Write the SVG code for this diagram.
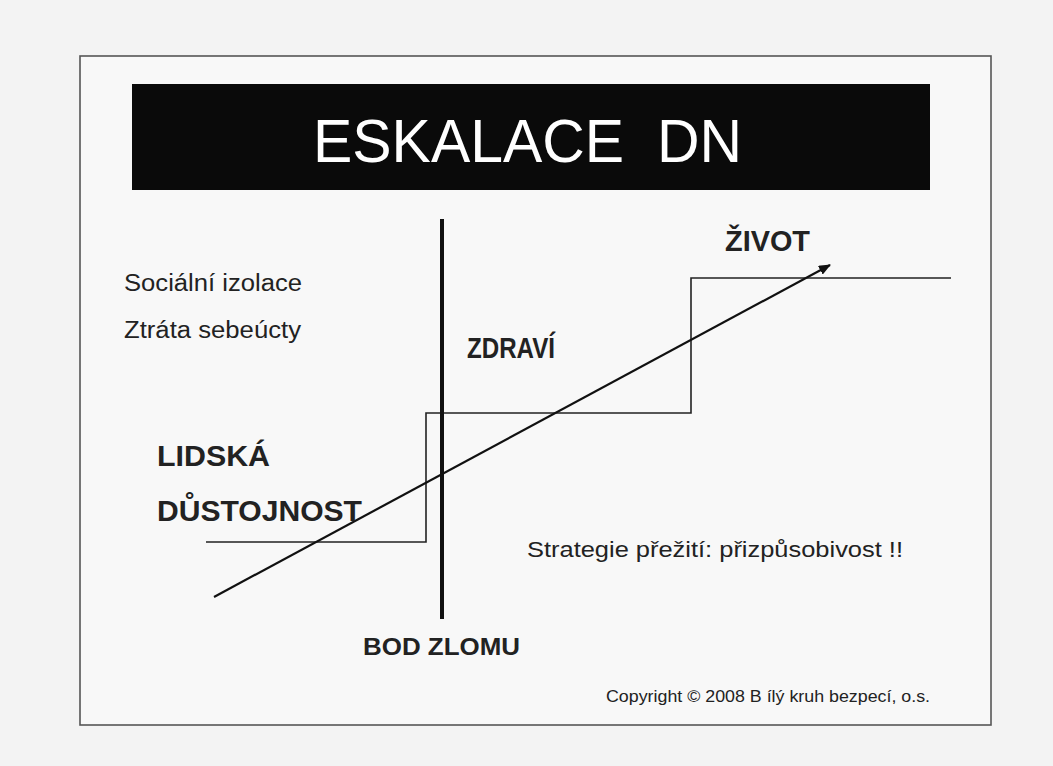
<svg xmlns="http://www.w3.org/2000/svg" width="1053" height="766" viewBox="0 0 1053 766">
<defs>
<style>
.t{font-family:"Liberation Sans",Arial,sans-serif;fill:#222}
.b{font-weight:bold}
.thin{fill:none;stroke:#222;stroke-width:1.6}
</style>
<marker id="ah" viewBox="0 0 12 10" refX="11" refY="5" markerWidth="12" markerHeight="10" markerUnits="userSpaceOnUse" orient="auto">
<path d="M0,0 L12,5 L0,10 Z" fill="#111"/>
</marker>
</defs>
<rect width="1053" height="766" fill="#f3f3f3"/>
<rect x="80" y="56" width="911" height="669" fill="#f8f8f8" stroke="#555" stroke-width="1.6"/>
<g id="title">
<rect x="132" y="84" width="798" height="106" fill="#0a0a0a"/>
<text class="t" x="313" y="162" font-size="62" style="fill:#fff;white-space:pre" xml:space="preserve" textLength="429" lengthAdjust="spacingAndGlyphs">ESKALACE  DN</text>
</g>
<g id="connectors">
<polyline class="thin" points="206,542 426,542 426,413 691,413 691,278 951,278"/>
<line x1="442" y1="219" x2="442" y2="619" stroke="#111" stroke-width="4"/>
<line x1="214" y1="597" x2="830" y2="265" stroke="#111" stroke-width="2.2" marker-end="url(#ah)"/>
</g>
<g id="zivot"><text class="t b" x="725" y="251" font-size="29" textLength="85" lengthAdjust="spacingAndGlyphs">ŽIVOT</text></g>
<g id="zdravi"><text class="t b" x="467" y="358" font-size="29" textLength="88" lengthAdjust="spacingAndGlyphs">ZDRAVÍ</text></g>
<g id="socialni"><text class="t" x="124" y="291" font-size="23" textLength="178" lengthAdjust="spacingAndGlyphs">Sociální izolace</text></g>
<g id="ztrata"><text class="t" x="124" y="338" font-size="23" textLength="177" lengthAdjust="spacingAndGlyphs">Ztráta sebeúcty</text></g>
<g id="lidska"><text class="t b" x="157" y="466" font-size="29" textLength="113" lengthAdjust="spacingAndGlyphs">LIDSKÁ</text></g>
<g id="dustojnost"><text class="t b" x="157" y="521" font-size="29" textLength="205" lengthAdjust="spacingAndGlyphs">DŮSTOJNOST</text></g>
<g id="strategie"><text class="t" x="527" y="557" font-size="22" textLength="376" lengthAdjust="spacingAndGlyphs">Strategie přežití: přizpůsobivost !!</text></g>
<g id="bod"><text class="t b" x="363" y="655" font-size="24" textLength="157" lengthAdjust="spacingAndGlyphs">BOD ZLOMU</text></g>
<g id="copyright"><text class="t" x="606" y="702" font-size="16" textLength="324" lengthAdjust="spacingAndGlyphs">Copyright © 2008 B ílý kruh bezpecí, o.s.</text></g>
</svg>
